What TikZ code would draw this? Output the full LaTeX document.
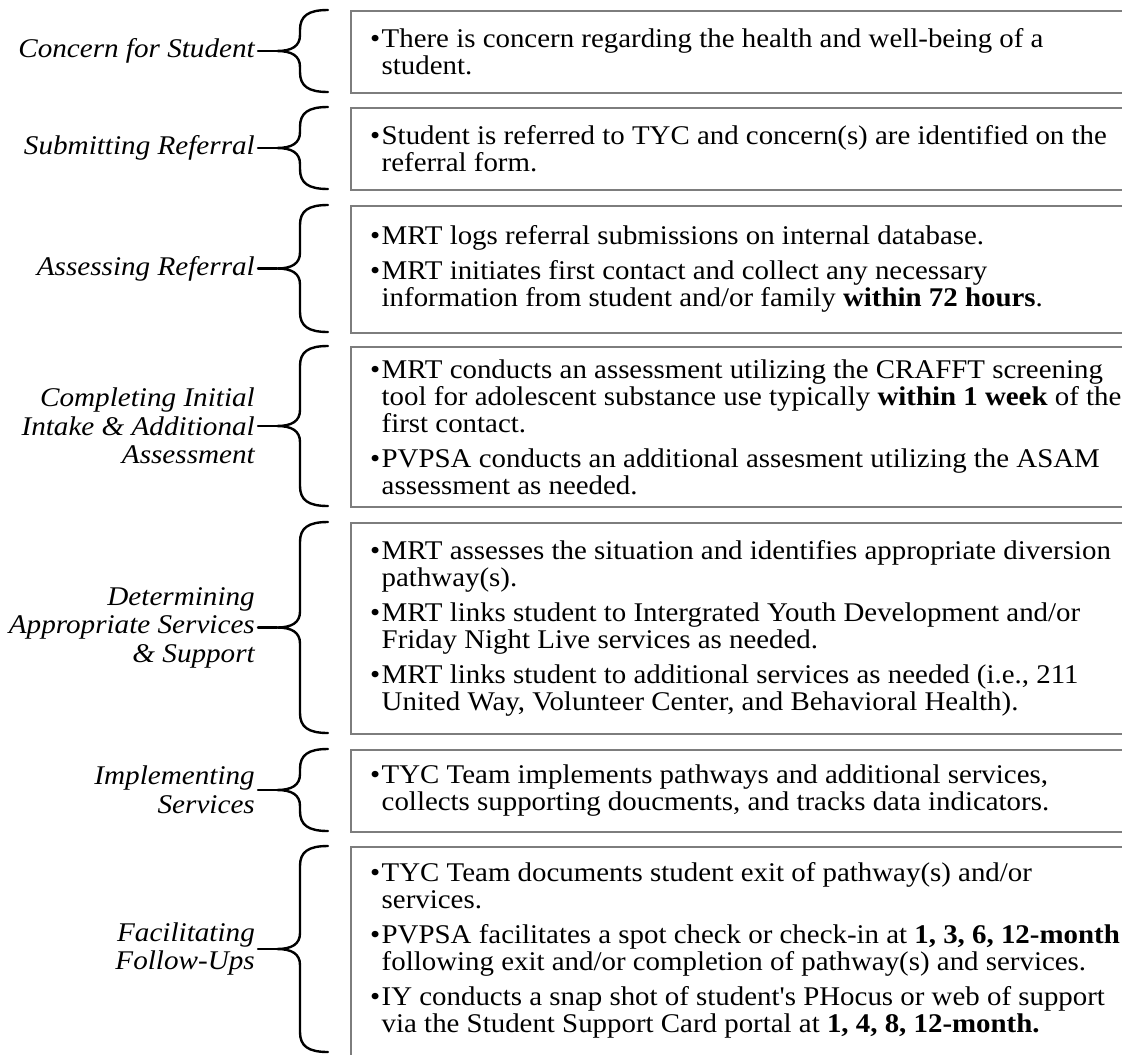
\documentclass[tikz,border=0pt]{standalone}
\usepackage{fontspec}
\setmainfont{Liberation Serif}[FakeStretch=1.08]
\newfontfamily\boxfont{Liberation Serif}[FakeStretch=1.07]
\definecolor{boxgray}{RGB}{125,125,125}
\newcommand\bul{\makebox[11.5pt][l]{•}}
\newcommand\ind{\hspace*{11.5pt}}
\newcommand\mybrace[4]{% name, top, bottom, label node
  \pgfmathsetmacro\mymid{(#2+#3)/2}
  \coordinate (tip#1) at (277,\mymid);
  \draw[bracestyle] (328,#2) .. controls (308,#2) and (300,#2+6) .. (300,#2+20)
     -- (300,\mymid-16) .. controls (300,\mymid-5) and (292,\mymid) .. (tip#1)
     .. controls (292,\mymid) and (300,\mymid+5) .. (300,\mymid+16)
     -- (300,#3-20) .. controls (300,#3-6) and (308,#3) .. (328,#3);
  \draw[bracestyle] ([xshift=3pt]#4.east) -- (tip#1);
}
\begin{document}
\begin{tikzpicture}[x=1pt,y=-1pt,
  box/.style={draw=boxgray, line width=1.8pt, anchor=north west, minimum width=790pt, inner sep=0pt},
  txt/.style={anchor=west, align=left, inner sep=0pt, font=\boxfont\fontsize{27}{27}\selectfont},
  lab/.style={anchor=east, align=right, inner sep=0pt, font=\itshape\fontsize{27}{28.5}\selectfont},
  bracestyle/.style={line width=2.4pt, line cap=round}
]
\useasboundingbox (0,0) rectangle (1122,1055);

% boxes
\node[box, minimum height=82pt]  (b1) at (350,10) {};
\node[box, minimum height=82pt]  (b2) at (350,107) {};
\node[box, minimum height=127pt] (b3) at (350,205) {};
\node[box, minimum height=160pt] (b4) at (350,346) {};
\node[box, minimum height=211pt] (b5) at (350,522) {};
\node[box, minimum height=82pt]  (b6) at (350,749) {};
\node[box, minimum height=215pt] (b7) at (350,846) {};

% box texts
\node[txt] (t1) at ([xshift=20pt]b1.west) {\bul There is concern regarding the health and well-being of a\\ \ind student.};
\node[txt] (t2) at ([xshift=20pt]b2.west) {\bul Student is referred to TYC and concern(s) are identified on the\\ \ind referral form.};
\node[txt] (t3) at ([xshift=20pt]b3.west) {\bul MRT logs referral submissions on internal database.\\[8pt]
  \bul MRT initiates first contact and collect any necessary\\
  \ind information from student and/or family \textbf{within 72 hours}.};
\node[txt] (t4) at ([xshift=20pt]b4.west) {\bul MRT conducts an assessment utilizing the CRAFFT screening\\
  \ind tool for adolescent substance use typically \textbf{within 1 week} of the\\
  \ind first contact.\\[8pt]
  \bul PVPSA conducts an additional assesment utilizing the ASAM\\
  \ind assessment as needed.};
\node[txt] (t5) at ([xshift=20pt]b5.west) {\bul MRT assesses the situation and identifies appropriate diversion\\
  \ind pathway(s).\\[8pt]
  \bul MRT links student to Intergrated Youth Development and/or\\
  \ind Friday Night Live services as needed.\\[8pt]
  \bul MRT links student to additional services as needed (i.e., 211\\
  \ind United Way, Volunteer Center, and Behavioral Health).};
\node[txt] (t6) at ([xshift=20pt]b6.west) {\bul TYC Team implements pathways and additional services,\\
  \ind collects supporting doucments, and tracks data indicators.};
\node[txt] (t7) at (370,950) {\bul TYC Team documents student exit of pathway(s) and/or\\
  \ind services.\\[8pt]
  \bul PVPSA facilitates a spot check or check-in at \textbf{1, 3, 6, 12-month}\\
  \ind following exit and/or completion of pathway(s) and services.\\[8pt]
  \bul IY conducts a snap shot of student{\char"27}s PHocus or web of support\\
  \ind via the Student Support Card portal at \textbf{1, 4, 8, 12-month.}};

% labels
\node[lab] (l1) at (255,51)  {Concern for Student};
\node[lab] (l2) at (255,148) {Submitting Referral};
\node[lab] (l3) at (255,268.5) {Assessing Referral};
\node[lab] (l4) at (255,426) {Completing Initial\\ Intake \& Additional\\ Assessment};
\node[lab] (l5) at (255,627.5) {Determining\\ Appropriate Services\\ \& Support};
\node[lab] (l6) at (255,790) {Implementing\\ Services};
\node[lab] (l7) at (255,949) {Facilitating\\ Follow-Ups};

% braces
\mybrace{1}{10}{92}{l1}
\mybrace{2}{107}{189}{l2}
\mybrace{3}{205}{332}{l3}
\mybrace{4}{346}{506}{l4}
\mybrace{5}{522}{733}{l5}
\mybrace{6}{749}{831}{l6}
\mybrace{7}{846}{1052}{l7}
\end{tikzpicture}
\end{document}
